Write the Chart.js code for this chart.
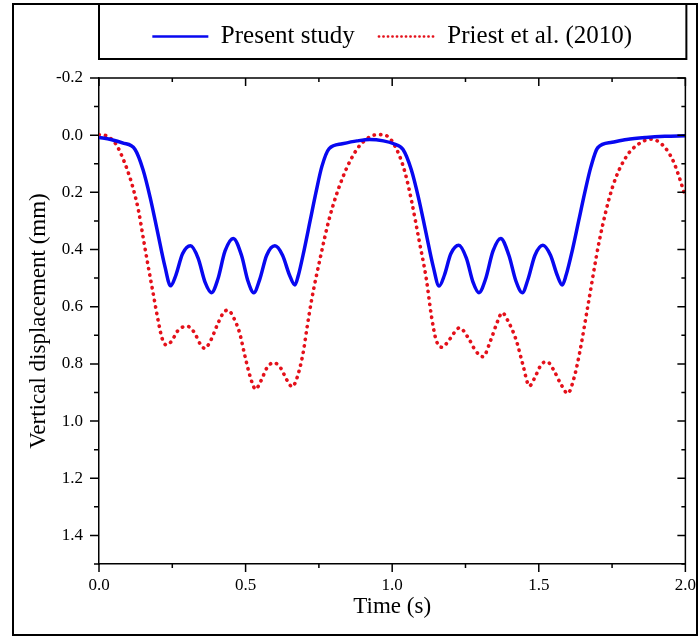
<!DOCTYPE html>
<html>
<head>
<meta charset="utf-8">
<script src="https://cdn.jsdelivr.net/npm/chart.js@4"></script>
<style>
  body { margin: 0; background: #fff; }
  #wrap { width: 699px; height: 637px; position: relative; }
</style>
</head>
<body>
<div id="wrap"><canvas id="disp_chart"></canvas></div>
<script>
// Present study (blue solid)
var presentTime = [0.000, 0.040, 0.080, 0.123, 0.150, 0.175, 0.200, 0.225, 0.244, 0.262, 0.285, 0.312, 0.338, 0.362, 0.384,
  0.405, 0.430, 0.458, 0.486, 0.508, 0.528, 0.548, 0.572, 0.600, 0.626, 0.650, 0.668, 0.680, 0.700, 0.720, 0.740, 0.760,
  0.785, 0.830, 0.880, 0.923, 0.970, 1.005, 1.037, 1.065, 1.090, 1.115, 1.140, 1.160, 1.178, 1.200, 1.227, 1.253, 1.276,
  1.296, 1.318, 1.344, 1.370, 1.398, 1.422, 1.444, 1.463, 1.487, 1.514, 1.540, 1.563, 1.580, 1.593, 1.615, 1.636, 1.657,
  1.678, 1.701, 1.750, 1.800, 1.866, 1.930, 2.000];
var presentDisp = [0.008, 0.015, 0.027, 0.050, 0.120, 0.220, 0.340, 0.460, 0.527, 0.490, 0.415, 0.387, 0.430, 0.515, 0.551,
  0.505, 0.405, 0.361, 0.420, 0.510, 0.551, 0.505, 0.420, 0.387, 0.420, 0.490, 0.524, 0.490, 0.400, 0.300, 0.200, 0.110,
  0.047, 0.030, 0.020, 0.015, 0.020, 0.030, 0.050, 0.120, 0.220, 0.340, 0.460, 0.528, 0.490, 0.415, 0.385, 0.430, 0.515,
  0.551, 0.505, 0.405, 0.361, 0.420, 0.510, 0.551, 0.505, 0.420, 0.385, 0.420, 0.490, 0.524, 0.490, 0.400, 0.300, 0.200,
  0.110, 0.044, 0.025, 0.015, 0.008, 0.004, 0.002];

// Priest et al. (2010) (red dotted)
var priestTime = [0.000, 0.030, 0.060, 0.085, 0.106, 0.120, 0.135, 0.151, 0.168, 0.185, 0.202, 0.215, 0.230, 0.248, 0.268,
  0.300, 0.325, 0.345, 0.361, 0.380, 0.405, 0.425, 0.440, 0.460, 0.480, 0.495, 0.509, 0.522, 0.534, 0.552, 0.575, 0.597,
  0.620, 0.640, 0.659, 0.675, 0.696, 0.710, 0.725, 0.753, 0.787, 0.832, 0.878, 0.923, 0.957, 0.986, 1.005, 1.026, 1.045,
  1.065, 1.094, 1.116, 1.135, 1.150, 1.171, 1.195, 1.230, 1.260, 1.285, 1.310, 1.335, 1.360, 1.375, 1.395, 1.423, 1.445,
  1.468, 1.490, 1.510, 1.529, 1.550, 1.575, 1.599, 1.620, 1.639, 1.667, 1.707, 1.752, 1.798, 1.843, 1.883, 1.923, 1.957,
  1.980, 2.000];
var priestDisp = [-0.002, 0.004, 0.035, 0.090, 0.150, 0.200, 0.265, 0.360, 0.460, 0.555, 0.650, 0.710, 0.734, 0.720, 0.685,
  0.668, 0.690, 0.730, 0.746, 0.720, 0.660, 0.620, 0.612, 0.640, 0.693, 0.760, 0.820, 0.865, 0.889, 0.860, 0.810, 0.796,
  0.815, 0.855, 0.880, 0.850, 0.763, 0.670, 0.577, 0.437, 0.286, 0.146, 0.052, 0.006, -0.002, 0.005, 0.030, 0.075, 0.135,
  0.225, 0.380, 0.500, 0.640, 0.717, 0.742, 0.715, 0.674, 0.710, 0.755, 0.775, 0.720, 0.650, 0.621, 0.650, 0.717, 0.800,
  0.877, 0.840, 0.800, 0.793, 0.820, 0.870, 0.903, 0.850, 0.763, 0.600, 0.367, 0.180, 0.076, 0.029, 0.014, 0.035, 0.087,
  0.150, 0.216];

var xTicks = [0.0, 0.5, 1.0, 1.5, 2.0];
var yTicks = [-0.2, 0.0, 0.2, 0.4, 0.6, 0.8, 1.0, 1.2, 1.4];

var serif = "'Liberation Serif', 'Times New Roman', serif";
var legendHeight = 78;

function toPoints(xs, ys) {
    var pts = [];
    for (var i = 0; i < xs.length; i++) pts.push({x: xs[i], y: ys[i]});
    return pts;
}

// make the legend row taller so the plot starts lower (gap under legend)
const legendGap = {
    id: 'legendGap',
    beforeLayout(chart) {
        var lg = chart.legend;
        if (lg && !lg.gapPatched) {
            var fit = lg.fit;
            lg.fit = function() { fit.call(this); this.height = legendHeight; };
            lg.gapPatched = true;
        }
    }
};

// frame, legend box, top/right axis lines and all tick marks
const framePlugin = {
    id: 'frame',
    afterDraw(chart) {
        var ctx = chart.ctx;
        var a = chart.chartArea;
        var xs = chart.scales.x, ys = chart.scales.y;
        ctx.save();
        ctx.strokeStyle = '#000';
        // outer border
        ctx.lineWidth = 2;
        ctx.strokeRect(13, 4, 684, 631);
        // legend box
        ctx.beginPath();
        ctx.moveTo(a.left, 4);
        ctx.lineTo(a.left, 59);
        ctx.lineTo(a.right + 1, 59);
        ctx.lineTo(a.right + 1, 4);
        ctx.stroke();
        // top & right borders of plot
        ctx.lineWidth = 1.5;
        ctx.beginPath();
        ctx.moveTo(a.left, a.top);
        ctx.lineTo(a.right, a.top);
        ctx.lineTo(a.right, a.bottom);
        ctx.stroke();
        // y ticks
        ctx.beginPath();
        for (var i = -2; i <= 15; i++) {
            var py = ys.getPixelForValue(i / 10);
            var major = (i % 2 === 0);
            ctx.moveTo(a.left, py);
            ctx.lineTo(a.left - (major ? 9 : 5), py);
            ctx.moveTo(a.right, py);
            ctx.lineTo(a.right - (major ? 8 : 4), py);
        }
        // x ticks
        for (var j = 0; j <= 8; j++) {
            var px = xs.getPixelForValue(j / 4);
            var maj = (j % 2 === 0);
            ctx.moveTo(px, a.bottom);
            ctx.lineTo(px, a.bottom + (maj ? 8 : 4));
            ctx.moveTo(px, a.top);
            ctx.lineTo(px, a.top + (maj ? 8 : 4));
        }
        ctx.stroke();
        ctx.restore();
    }
};

const data = {
    datasets: [{
        label: 'Present study',
        data: toPoints(presentTime, presentDisp),
        borderColor: '#0808f0',
        backgroundColor: '#0808f0',
        borderWidth: 3.5,
        pointRadius: 0,
        cubicInterpolationMode: 'monotone'
    }, {
        label: 'Priest et al. (2010)',
        data: toPoints(priestTime, priestDisp),
        borderColor: '#e4101a',
        backgroundColor: '#e4101a',
        borderWidth: 3.6,
        borderDash: [0.3, 6.2],
        borderCapStyle: 'round',
        pointRadius: 0,
        cubicInterpolationMode: 'monotone'
    }]
};

const config = {
    type: 'line',
    data: data,
    plugins: [legendGap, framePlugin],
    options: {
        responsive: true,
        maintainAspectRatio: false,
        animation: false,
        layout: { padding: { left: 13, right: 13, top: 0, bottom: 0 } },
        plugins: {
            tooltip: { enabled: false },
            legend: {
                position: 'top',
                fullSize: false,
                labels: {
                    usePointStyle: true,
                    pointStyle: 'line',
                    pointStyleWidth: 56,
                    padding: 24,
                    color: '#000',
                    font: { family: serif, size: 25 },
                    generateLabels: function(chart) {
                        var items = Chart.defaults.plugins.legend.labels.generateLabels(chart);
                        items.forEach(function(it, i) {
                            var ds = chart.data.datasets[i];
                            it.strokeStyle = ds.borderColor;
                            it.lineWidth = 2.5;
                            it.lineDash = ds.borderDash ? [0.3, 4.2] : [];
                            it.lineCap = ds.borderCapStyle || 'butt';
                        });
                        return items;
                    }
                }
            }
        },
        scales: {
            x: {
                type: 'linear',
                min: 0, max: 2,
                afterFit: function(s) { s.height = 73; },
                afterBuildTicks: function(s) { s.ticks = xTicks.map(function(v) { return {value: v}; }); },
                grid: { display: false, drawTicks: true, tickLength: 8 },
                border: { display: true, color: '#000', width: 1.5 },
                ticks: {
                    color: '#000', padding: 3, maxRotation: 0, autoSkip: false,
                    font: { family: serif, size: 17 },
                    callback: function(v) { return v.toFixed(1); }
                },
                title: {
                    display: true, text: 'Time (s)', color: '#000',
                    font: { family: serif, size: 23 },
                    padding: { top: 0, bottom: 16 }
                }
            },
            y: {
                reverse: true,
                min: -0.2, max: 1.5,
                afterFit: function(s) { s.width = 86; },
                afterBuildTicks: function(s) { s.ticks = yTicks.map(function(v) { return {value: v}; }); },
                grid: { display: false, drawTicks: true, tickLength: 9 },
                border: { display: true, color: '#000', width: 1.5 },
                ticks: {
                    color: '#000', padding: 7, autoSkip: false,
                    font: { family: serif, size: 17 },
                    callback: function(v) { return v.toFixed(1); }
                },
                title: {
                    display: true, text: 'Vertical displacement (mm)', color: '#000',
                    font: { family: serif, size: 23 },
                    padding: { top: 12, bottom: 0 }
                }
            }
        }
    }
};

var chart = new Chart(document.getElementById('disp_chart'), config);
</script>
</body>
</html>
